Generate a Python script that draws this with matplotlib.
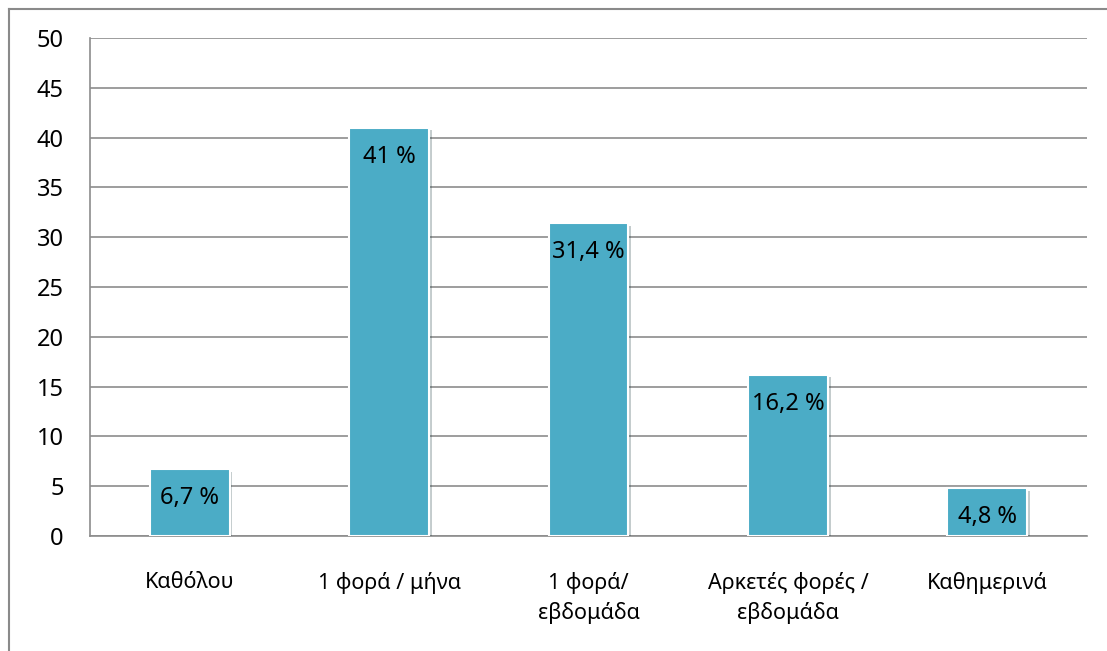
import matplotlib.pyplot as plt
import matplotlib.patheffects as pe
from matplotlib.lines import Line2D

plt.rcParams['font.family'] = ['Noto Sans', 'DejaVu Sans']

categories = ['Καθόλου', '1 φορά / μήνα', '1 φορά/\nεβδομάδα',
              'Αρκετές φορές /\nεβδομάδα', 'Καθημερινά']
values = [6.7, 41, 31.4, 16.2, 4.8]
labels = ['6,7 %', '41 %', '31,4 %', '16,2 %', '4,8 %']
yticks = list(range(0, 55, 5))

bar_color = '#4bacc6'
grid_color = '#8c8c8c'

fig = plt.figure(figsize=(11.07, 6.51), dpi=100)
ax = fig.add_axes([0.0813, 0.1767, 0.9007, 0.765])

x = range(len(categories))
bars = ax.bar(x, values, width=0.4, color=bar_color, edgecolor='white',
              linewidth=1.5, zorder=3)
for b in bars:
    b.set_path_effects([pe.SimplePatchShadow(offset=(2, -2), alpha=0.25),
                        pe.Normal()])

for xi, v, lab in zip(x, values, labels):
    ax.annotate(lab, (xi, v), xytext=(0, -21), textcoords='offset points',
                ha='center', va='center', fontsize=17, color='black', zorder=4)

ax.set_xlim(-0.5, len(categories) - 0.5)
ax.set_ylim(0, 50)
ax.set_yticks(yticks)
ax.set_xticks(list(x))
ax.set_xticklabels(categories, fontsize=15.5, linespacing=1.45)
ax.tick_params(axis='y', length=0, pad=19, labelsize=17)
ax.tick_params(axis='x', length=0, pad=26)

ax.grid(axis='y', color=grid_color, linewidth=1.2, zorder=0)
ax.set_axisbelow(True)
for s in ['top', 'right']:
    ax.spines[s].set_visible(False)
for s in ['left', 'bottom']:
    ax.spines[s].set_color(grid_color)
    ax.spines[s].set_linewidth(1.2)

# outer chart frame (only the left and top edges fall inside the image)
frame_x = 8.5 / 1107
frame_y = 1 - 8.5 / 651
fig.add_artist(Line2D([frame_x, frame_x], [0, frame_y], transform=fig.transFigure,
                      color='#8a8a8a', linewidth=1.5))
fig.add_artist(Line2D([frame_x, 1], [frame_y, frame_y], transform=fig.transFigure,
                      color='#8a8a8a', linewidth=1.5))

fig.savefig('out.png', dpi=100)
